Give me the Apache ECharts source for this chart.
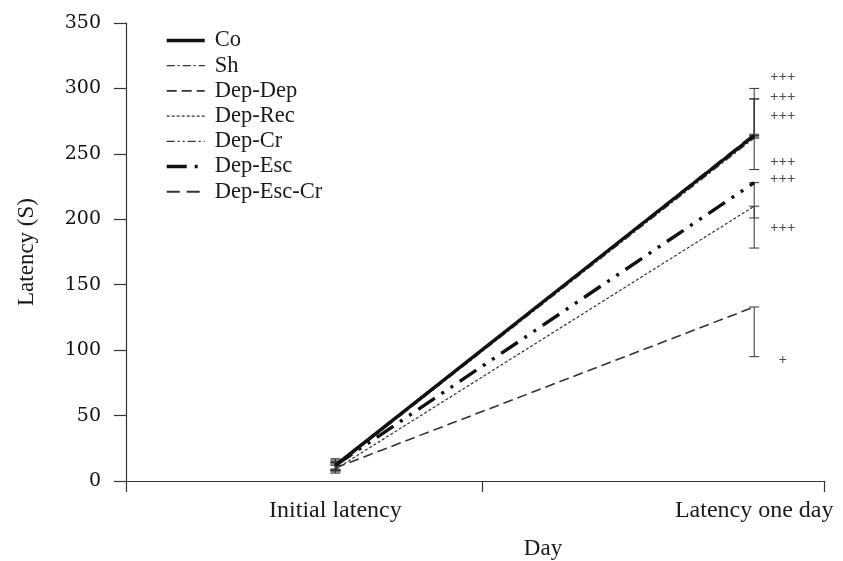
<!DOCTYPE html>
<html>
<head>
<meta charset="utf-8">
<script src="https://cdn.jsdelivr.net/npm/echarts@6/dist/echarts.min.js"></script>
<style>
  html, body { margin: 0; padding: 0; background: #fff; }
  #chart { width: 843px; height: 561px; }
</style>
</head>
<body>
<div id="chart"></div>
<script>
// Day categories along the x axis
const categories = ['Initial latency', 'Latency one day'];

// Group names (legend order)
const groups = ['Co', 'Sh', 'Dep-Dep', 'Dep-Rec', 'Dep-Cr', 'Dep-Esc', 'Dep-Esc-Cr'];

// Mean latency (s) per group: [initial, one day]
const latencyCo       = [12, 264];
const latencySh       = [11, 262];
const latencyDepDep   = [10, 133];
const latencyDepRec   = [9, 210];
const latencyDepCr    = [13, 263];
const latencyDepEsc   = [12, 228];
const latencyDepEscCr = [11, 265];

// Error extents (s) per group: [initial, one day]; plus above the mean, minus below
const errPlus  = {
  'Co': [4, 36], 'Sh': [3, 30], 'Dep-Dep': [3, 0], 'Dep-Rec': [3, 0],
  'Dep-Cr': [4, 0], 'Dep-Esc': [3, 0], 'Dep-Esc-Cr': [3, 27]
};
const errMinus = {
  'Co': [4, 0], 'Sh': [3, 0], 'Dep-Dep': [3, 38], 'Dep-Rec': [3, 9],
  'Dep-Cr': [4, 25], 'Dep-Esc': [3, 50], 'Dep-Esc-Cr': [3, 0]
};

// Significance marks beside the one-day means
const sigText   = ['+++', '+++', '+++', '+++', '+++', '+++', '+'];
const sigLevels = [309, 293, 279, 244, 231, 193, 92];

// Y axis ticks
const yTicks = [0, 50, 100, 150, 200, 250, 300, 350];

const values = {
  'Co': latencyCo, 'Sh': latencySh, 'Dep-Dep': latencyDepDep, 'Dep-Rec': latencyDepRec,
  'Dep-Cr': latencyDepCr, 'Dep-Esc': latencyDepEsc, 'Dep-Esc-Cr': latencyDepEscCr
};

// Line look for each group
const styles = {
  'Co':         { width: 3.4, type: 'solid',             color: '#111' },
  'Sh':         { width: 1.2, type: [8, 3, 2, 3],        color: '#333' },
  'Dep-Dep':    { width: 1.6, type: [10, 5],             color: '#333' },
  'Dep-Rec':    { width: 1.2, type: [3, 2],              color: '#333' },
  'Dep-Cr':     { width: 1.2, type: [8, 3, 2, 3, 2, 3],  color: '#333' },
  'Dep-Esc':    { width: 3.4, type: [20, 8, 3, 8, 3, 8], color: '#111' },
  'Dep-Esc-Cr': { width: 2,   type: [13, 7],             color: '#333' }
};

// Category i sits at this x value on the 0..10 day axis
const catX = i => 3 + 6 * i;

const serif = 'Liberation Serif';

// Draw order: lower groups first so the control line stays on top
const drawOrder = ['Dep-Dep', 'Dep-Rec', 'Dep-Esc', 'Dep-Cr', 'Dep-Esc-Cr', 'Sh', 'Co'];

const lineSeries = drawOrder.map(g => ({
  name: g,
  type: 'line',
  symbol: 'none',
  z: 3,
  lineStyle: { width: styles[g].width, type: styles[g].type, color: styles[g].color },
  itemStyle: { color: styles[g].color },
  data: values[g].map((v, i) => [catX(i), v])
}));

const errData = [];
groups.forEach(g => {
  values[g].forEach((v, i) => {
    errData.push([catX(i), v - errMinus[g][i], v + errPlus[g][i]]);
  });
});

const errSeries = {
  name: 'err',
  type: 'custom',
  z: 2,
  data: errData,
  renderItem: (params, api) => {
    const x = api.value(0);
    const lo = api.coord([x, api.value(1)]);
    const hi = api.coord([x, api.value(2)]);
    const cap = 5;
    const st = { stroke: '#333', lineWidth: 1 };
    return {
      type: 'group',
      children: [
        { type: 'line', shape: { x1: lo[0], y1: lo[1], x2: hi[0], y2: hi[1] }, style: st },
        { type: 'line', shape: { x1: lo[0] - cap, y1: lo[1], x2: lo[0] + cap, y2: lo[1] }, style: st },
        { type: 'line', shape: { x1: hi[0] - cap, y1: hi[1], x2: hi[0] + cap, y2: hi[1] }, style: st }
      ]
    };
  }
};

const sigSeries = {
  name: 'sig',
  type: 'scatter',
  symbolSize: 0,
  z: 4,
  data: sigLevels.map((v, i) => ({ value: [9.41, v], label: { formatter: sigText[i] } })),
  label: {
    show: true, position: 'inside', color: '#222',
    fontFamily: serif, fontSize: 15, fontWeight: 'bold'
  }
};

const chart = echarts.init(document.getElementById('chart'), null, { renderer: 'canvas' });
chart.setOption({
  animation: false,
  backgroundColor: '#fff',
  grid: { left: 126, right: 19, top: 23, bottom: 80, containLabel: false, outerBoundsMode: 'none' },
  legend: {
    data: groups.map(g => ({ name: g, lineStyle: { width: styles[g].width, type: styles[g].type, color: styles[g].color } })),
    orient: 'vertical',
    left: 165,
    top: 29,
    padding: 0,
    itemWidth: 38,
    itemHeight: 14,
    itemGap: 2.2,
    itemStyle: { opacity: 0 },
    textStyle: { fontFamily: serif, fontSize: 22.5, lineHeight: 22, color: '#1a1a1a', padding: [0, 0, 0, 5] }
  },
  xAxis: {
    type: 'value',
    min: 0,
    max: 10,
    name: 'Day',
    nameLocation: 'middle',
    nameGap: 56,
    nameTextStyle: { fontFamily: serif, fontSize: 23, color: '#1a1a1a', padding: [0, 0, 0, 136] },
    splitLine: { show: false },
    axisLine: { lineStyle: { color: '#333', width: 1.2 } },
    axisTick: { show: true, length: 11, customValues: [0, 5.1, 10], lineStyle: { color: '#333', width: 1.2 } },
    axisLabel: {
      customValues: categories.map((c, i) => catX(i)),
      formatter: v => categories[Math.round((v - 3) / 6)],
      margin: 18,
      fontFamily: serif, fontSize: 24, color: '#1a1a1a'
    }
  },
  yAxis: {
    type: 'value',
    min: 0,
    max: 350,
    interval: 50,
    name: 'Latency (S)',
    nameLocation: 'middle',
    nameGap: 88,
    nameTextStyle: { fontFamily: serif, fontSize: 23, color: '#1a1a1a' },
    splitLine: { show: false },
    axisLine: { show: true, lineStyle: { color: '#333', width: 1.2 } },
    axisTick: { show: true, length: 12, lineStyle: { color: '#333', width: 1.2 } },
    axisLabel: {
      margin: 25,
      formatter: v => (yTicks.indexOf(v) >= 0 ? String(v) : ''),
      fontFamily: 'DejaVu Serif', fontSize: 19, color: '#111'
    }
  },
  series: [errSeries].concat(lineSeries, [sigSeries])
});
</script>
</body>
</html>
